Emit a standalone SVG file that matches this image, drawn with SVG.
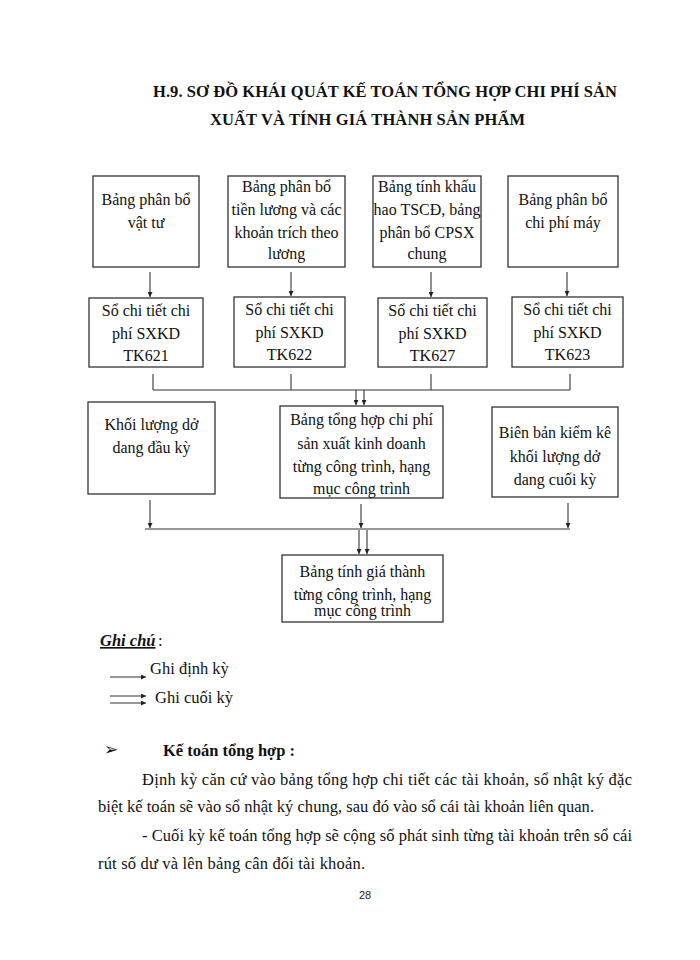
<svg xmlns="http://www.w3.org/2000/svg" width="700" height="960" viewBox="0 0 700 960">
<defs>
<style>
.bx{fill:#fff;stroke:#333;stroke-width:1.3}
.t{font-family:"Liberation Serif","Times New Roman",serif;font-size:16px;fill:#111;text-anchor:middle}
.ln{stroke:#333;stroke-width:1.1;fill:none}
.ttl{font-family:"Liberation Serif","Times New Roman",serif;font-size:16.5px;font-weight:bold;fill:#111}
.p{font-family:"Liberation Serif","Times New Roman",serif;font-size:16.5px;fill:#111}
</style>
<marker id="ah" viewBox="0 0 8 8" refX="8" refY="4" markerWidth="5" markerHeight="5" orient="auto" markerUnits="userSpaceOnUse">
<path d="M0,0 L8,4 L0,8 z" fill="#222"/>
</marker>
</defs>
<rect width="700" height="960" fill="#fff"/>

<text class="ttl" x="153" y="97" textLength="464" lengthAdjust="spacing">H.9.  SƠ ĐỒ KHÁI QUÁT KẾ TOÁN TỔNG HỢP CHI PHÍ SẢN</text>
<text class="ttl" x="210" y="125" textLength="315" lengthAdjust="spacing">XUẤT  VÀ TÍNH GIÁ THÀNH SẢN PHẨM</text>

<g id="n1"><rect class="bx" x="93" y="176" width="106" height="91"/>
<text class="t" x="146" y="205">Bảng phân bổ</text><text class="t" x="146" y="228">vật tư</text></g>
<g id="n2"><rect class="bx" x="228" y="176" width="117" height="91"/>
<text class="t" x="286.5" y="192">Bảng phân bổ</text><text class="t" x="286.5" y="215">tiền lương và các</text><text class="t" x="286.5" y="238">khoản trích theo</text><text class="t" x="286.5" y="259">lương</text></g>
<g id="n3"><rect class="bx" x="373" y="176" width="108" height="91"/>
<text class="t" x="427" y="192">Bảng tính khấu</text><text class="t" x="427" y="215">hao TSCĐ, bảng</text><text class="t" x="427" y="238">phân bổ CPSX</text><text class="t" x="427" y="259">chung</text></g>
<g id="n4"><rect class="bx" x="508" y="176" width="110" height="91"/>
<text class="t" x="563" y="205">Bảng phân bổ</text><text class="t" x="563" y="228">chi phí máy</text></g>

<g id="n5"><rect class="bx" x="89" y="298" width="114" height="69"/>
<text class="t" x="146" y="316">Sổ chi tiết  chi</text><text class="t" x="146" y="339">phí SXKD</text><text class="t" x="146" y="361">TK621</text></g>
<g id="n6"><rect class="bx" x="234" y="297" width="111" height="70"/>
<text class="t" x="289.5" y="315">Sổ chi tiết chi</text><text class="t" x="289.5" y="338">phí SXKD</text><text class="t" x="289.5" y="360">TK622</text></g>
<g id="n7"><rect class="bx" x="378" y="298" width="109" height="69"/>
<text class="t" x="432.5" y="316">Sổ chi tiết chi</text><text class="t" x="432.5" y="339">phí SXKD</text><text class="t" x="432.5" y="361">TK627</text></g>
<g id="n8"><rect class="bx" x="512" y="297" width="111" height="70"/>
<text class="t" x="567.5" y="315">Sổ chi tiết chi</text><text class="t" x="567.5" y="338">phí SXKD</text><text class="t" x="567.5" y="360">TK623</text></g>

<g id="n9"><rect class="bx" x="88" y="402" width="127" height="92"/>
<text class="t" x="151.5" y="430">Khối lượng  dở</text><text class="t" x="151.5" y="453">dang đầu kỳ</text></g>
<g id="n10"><rect class="bx" x="280" y="406" width="163" height="92"/>
<text class="t" x="361.5" y="425">Bảng tổng hợp chi phí</text><text class="t" x="361.5" y="449">sản xuất kinh doanh</text><text class="t" x="361.5" y="472">từng công trình, hạng</text><text class="t" x="361.5" y="494">mục công trình</text></g>
<g id="n11"><rect class="bx" x="492" y="407" width="126" height="90"/>
<text class="t" x="555" y="438">Biên bản kiểm kê</text><text class="t" x="555" y="462">khối lượng dở</text><text class="t" x="555" y="485">dang cuối kỳ</text></g>

<g id="n12"><rect class="bx" x="282" y="555" width="161" height="67"/>
<text class="t" x="362.5" y="577">Bảng tính giá thành</text><text class="t" x="362.5" y="600">từng công trình, hạng</text><text class="t" x="362.5" y="616">mục công trình</text></g>

<g id="connectors">
<line class="ln" x1="150" y1="272" x2="150" y2="297" marker-end="url(#ah)"/>
<line class="ln" x1="291" y1="272" x2="291" y2="296" marker-end="url(#ah)"/>
<line class="ln" x1="431" y1="272" x2="431" y2="297" marker-end="url(#ah)"/>
<line class="ln" x1="567" y1="272" x2="567" y2="296" marker-end="url(#ah)"/>
<line class="ln" x1="153" y1="374" x2="153" y2="390"/>
<line class="ln" x1="291" y1="374" x2="291" y2="390"/>
<line class="ln" x1="431" y1="374" x2="431" y2="390"/>
<line class="ln" x1="570" y1="374" x2="570" y2="390"/>
<line class="ln" x1="153" y1="390" x2="570" y2="390"/>
<line class="ln" x1="356" y1="390" x2="356" y2="405" marker-end="url(#ah)"/>
<line class="ln" x1="364" y1="390" x2="364" y2="405" marker-end="url(#ah)"/>
<line class="ln" x1="150" y1="500" x2="150" y2="528" marker-end="url(#ah)"/>
<line class="ln" x1="361" y1="504" x2="361" y2="528" marker-end="url(#ah)"/>
<line class="ln" x1="568" y1="503" x2="568" y2="528" marker-end="url(#ah)"/>
<line class="ln" x1="145" y1="529" x2="570" y2="529"/>
<line class="ln" x1="359" y1="530" x2="359" y2="554" marker-end="url(#ah)"/>
<line class="ln" x1="367" y1="530" x2="367" y2="554" marker-end="url(#ah)"/>
</g>

<text class="p" x="100" y="646" font-weight="bold" font-style="italic" text-decoration="underline">Ghi chú</text>
<text class="p" x="158" y="646"> :</text>
<line class="ln" x1="110" y1="677" x2="146" y2="677" marker-end="url(#ah)"/>
<text class="p" x="150" y="674">Ghi định kỳ</text>
<line class="ln" x1="110" y1="696" x2="146" y2="696" marker-end="url(#ah)"/>
<line class="ln" x1="110" y1="703" x2="146" y2="703" marker-end="url(#ah)"/>
<text class="p" x="155" y="703">Ghi cuối kỳ</text>

<text class="p" x="104" y="755" font-family="DejaVu Sans" font-size="14">➢</text>
<text class="p" x="163" y="756" font-weight="bold">Kế toán tổng hợp :</text>
<text class="p" x="142" y="785" textLength="490" lengthAdjust="spacing">Định kỳ căn cứ vào bảng tổng hợp chi tiết các tài khoản, sổ nhật ký đặc</text>
<text class="p" x="98" y="812" textLength="496" lengthAdjust="spacing">biệt kế toán sẽ vào sổ nhật ký chung, sau đó vào sổ cái tài khoản liên quan.</text>
<text class="p" x="142" y="841" textLength="490" lengthAdjust="spacing">- Cuối kỳ kế toán tổng hợp sẽ cộng số phát sinh từng tài khoản trên sổ cái</text>
<text class="p" x="98" y="869" textLength="267" lengthAdjust="spacing">rút số dư và lên bảng cân đối tài khoản.</text>
<text x="365" y="899" font-family="Liberation Sans, Arial, sans-serif" font-size="11" fill="#222" text-anchor="middle">28</text>
</svg>
